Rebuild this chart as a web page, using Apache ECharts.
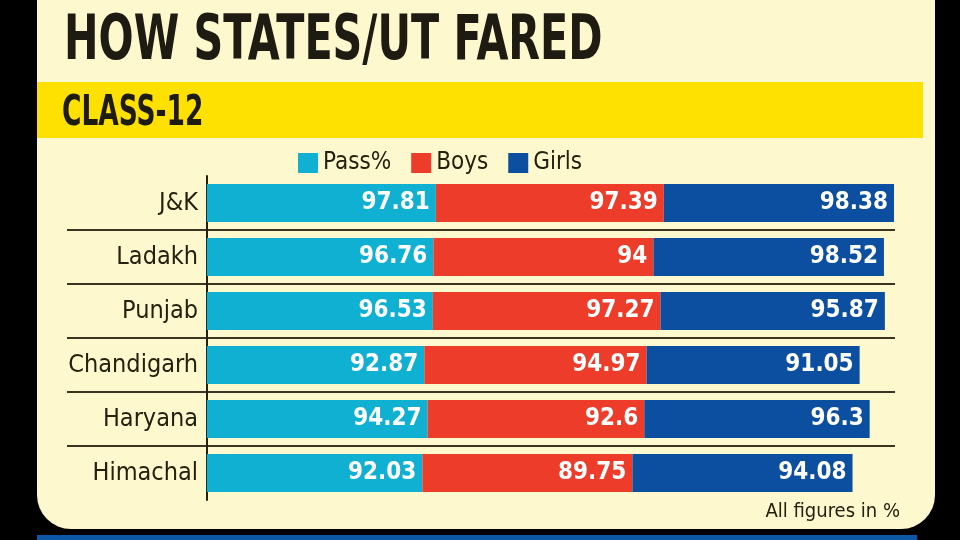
<!DOCTYPE html>
<html>
<head>
<meta charset="utf-8">
<script src="https://cdn.jsdelivr.net/npm/echarts@6/dist/echarts.min.js"></script>
<style>
  html, body { margin: 0; padding: 0; background: #000; }
  #main { width: 960px; height: 540px; }
</style>
</head>
<body>
<div id="main"></div>
<script>
// states / UT, top to bottom
let states = ['J&K', 'Ladakh', 'Punjab', 'Chandigarh', 'Haryana', 'Himachal'];
let passPct = [97.81, 96.76, 96.53, 92.87, 94.27, 92.03];
let boys = [97.39, 94, 97.27, 94.97, 92.6, 89.75];
let girls = [98.38, 98.52, 95.87, 91.05, 96.3, 94.08];

let narrow = "'Liberation Sans Narrow', 'DejaVu Sans Condensed', 'Roboto Condensed', sans-serif";
let ink = '#24210f';

let myChart = echarts.init(document.getElementById('main'));

function barSeries(name, data, color) {
    return {
        name: name,
        type: 'bar',
        stack: 'total',
        data: data,
        barWidth: 38,
        itemStyle: { color: color },
        label: {
            show: true,
            position: 'insideRight',
            distance: 6,
            color: '#fff',
            fontFamily: narrow,
            fontWeight: 'bold',
            fontSize: 24
        }
    };
}

let option = {
    backgroundColor: '#000',
    animation: false,
    title: {
        text: 'All figures in %',
        right: 55,
        top: 497,
        textStyle: { fontFamily: narrow, fontWeight: 'normal', fontSize: 20, color: ink }
    },
    legend: {
        left: 298,
        top: 151,
        padding: 0,
        icon: 'rect',
        itemWidth: 20,
        itemHeight: 20,
        itemGap: 20,
        textStyle: { fontFamily: narrow, fontSize: 24, color: ink }
    },
    graphic: [
        {
            type: 'rect', z: -10,
            shape: { x: 37, y: 0, width: 898, height: 529, r: [0, 0, 34, 34] },
            style: { fill: '#fef8cf' }
        },
        {
            type: 'rect', z: -9,
            shape: { x: 37, y: 82, width: 886, height: 56 },
            style: { fill: '#ffe100' }
        },
        {
            type: 'rect', z: -9,
            shape: { x: 37, y: 535, width: 880, height: 10 },
            style: { fill: '#0c58a6' }
        },
        {
            // headline, squeezed to the condensed width of the print face
            type: 'text', z: 10,
            x: 64, y: 43, scaleX: 0.74,
            style: {
                text: 'HOW STATES/UT FARED', fontFamily: narrow, fontWeight: 'bold',
                fontSize: 62, fill: '#1d1b12', align: 'left', verticalAlign: 'middle'
            }
        },
        {
            type: 'text', z: 10,
            x: 62, y: 114, scaleX: 0.70,
            style: {
                text: 'CLASS-12', fontFamily: narrow, fontWeight: 'bold',
                fontSize: 42, fill: '#1d1b12', align: 'left', verticalAlign: 'middle'
            }
        }
    ],
    // grid starts where the row rules start; the bars start at x = 0
    grid: { left: 67, right: 65, top: 176, bottom: 40, outerBoundsMode: 'none' },
    xAxis: {
        type: 'value',
        min: -59.8,
        max: 294,
        show: false
    },
    yAxis: {
        type: 'category',
        data: states,
        inverse: true,
        axisLine: { show: true, onZero: true, lineStyle: { color: ink, width: 2 } },
        axisTick: { show: false },
        // labels stay at the grid edge, so pull them right up to the zero line
        axisLabel: { margin: -131, fontFamily: narrow, fontSize: 25, color: ink },
        splitLine: {
            show: true,
            showMinLine: false,
            showMaxLine: false,
            lineStyle: { color: '#3a3520', width: 2 }
        }
    },
    series: [
        barSeries('Pass%', passPct, '#0fb0d2'),
        barSeries('Boys', boys, '#ee3c2b'),
        barSeries('Girls', girls, '#0c4fa0')
    ]
};

myChart.setOption(option);
</script>
</body>
</html>
